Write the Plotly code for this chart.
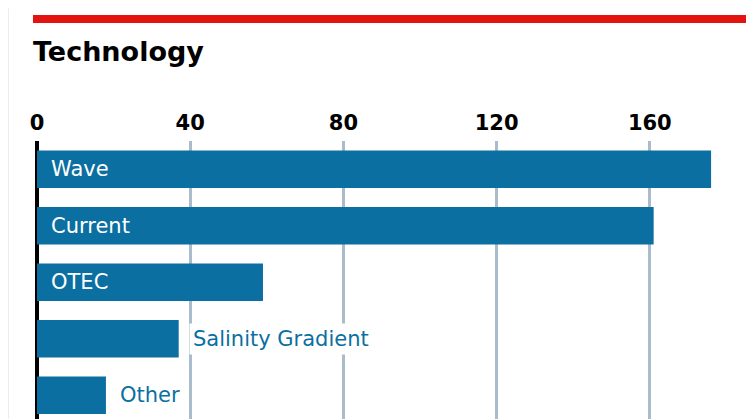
import plotly.graph_objects as go

# technologies and counts
technologies = ['Wave', 'Current', 'OTEC', 'Salinity Gradient', 'Other']
counts = [176, 161, 59, 37, 18]
tick_values = [0, 40, 80, 120, 160]

BAR_COLOR = '#0b6fa1'
GRID_COLOR = '#a9bccb'
FONT = 'DejaVu Sans'

fig = go.Figure()
fig.add_trace(go.Bar(x=counts, y=technologies, orientation='h',
                     marker=dict(color=BAR_COLOR, line=dict(width=0)),
                     hoverinfo='x+y'))

# labels: inside the bar when it is long enough, else just past its end
for name, val in zip(technologies, counts):
    if val > 50:
        fig.add_annotation(x=0, y=name, text=name, showarrow=False,
                           xanchor='left', xshift=12,
                           font=dict(family=FONT, size=21, color='white'))
    else:
        fig.add_annotation(x=val, y=name, text=name, showarrow=False,
                           xanchor='left', xshift=10, bgcolor='white', borderpad=3,
                           font=dict(family=FONT, size=21, color=BAR_COLOR))

# title above the chart
fig.add_annotation(xref='paper', yref='paper', x=-0.0084, y=1.3237, text='<b>Technology</b>',
                   showarrow=False, xanchor='left', yanchor='middle',
                   font=dict(family=FONT, size=27, color='black'))

# red rule at the top and the faint left border
fig.add_shape(type='rect', xref='paper', yref='paper', x0=-0.0056, x1=1.0,
              y0=1.4245, y1=1.4532, fillcolor='#e3140f', line=dict(width=0), layer='above')
fig.add_shape(type='line', xref='paper', yref='paper', x0=-0.0404, x1=-0.0404,
              y0=0, y1=1.478, line=dict(color='#dddddd', width=1))

fig.update_xaxes(side='top', range=[0, 187.2], tickvals=tick_values,
                 tickfont=dict(family=FONT, size=21, color='black', weight='bold'),
                 ticklabelstandoff=6,
                 showgrid=True, gridcolor=GRID_COLOR, gridwidth=3,
                 zeroline=True, zerolinecolor='black', zerolinewidth=4,
                 showline=False, ticks='', fixedrange=True)
fig.update_yaxes(categoryorder='array', categoryarray=technologies,
                 range=[4.42, -0.5], showticklabels=False, showgrid=False,
                 zeroline=False, fixedrange=True)

fig.update_layout(width=746, height=411, bargap=0.34,
                  margin=dict(l=29, r=0, t=133, b=0),
                  plot_bgcolor='white', paper_bgcolor='white',
                  showlegend=False, font=dict(family=FONT))

fig.write_html("out.html")
